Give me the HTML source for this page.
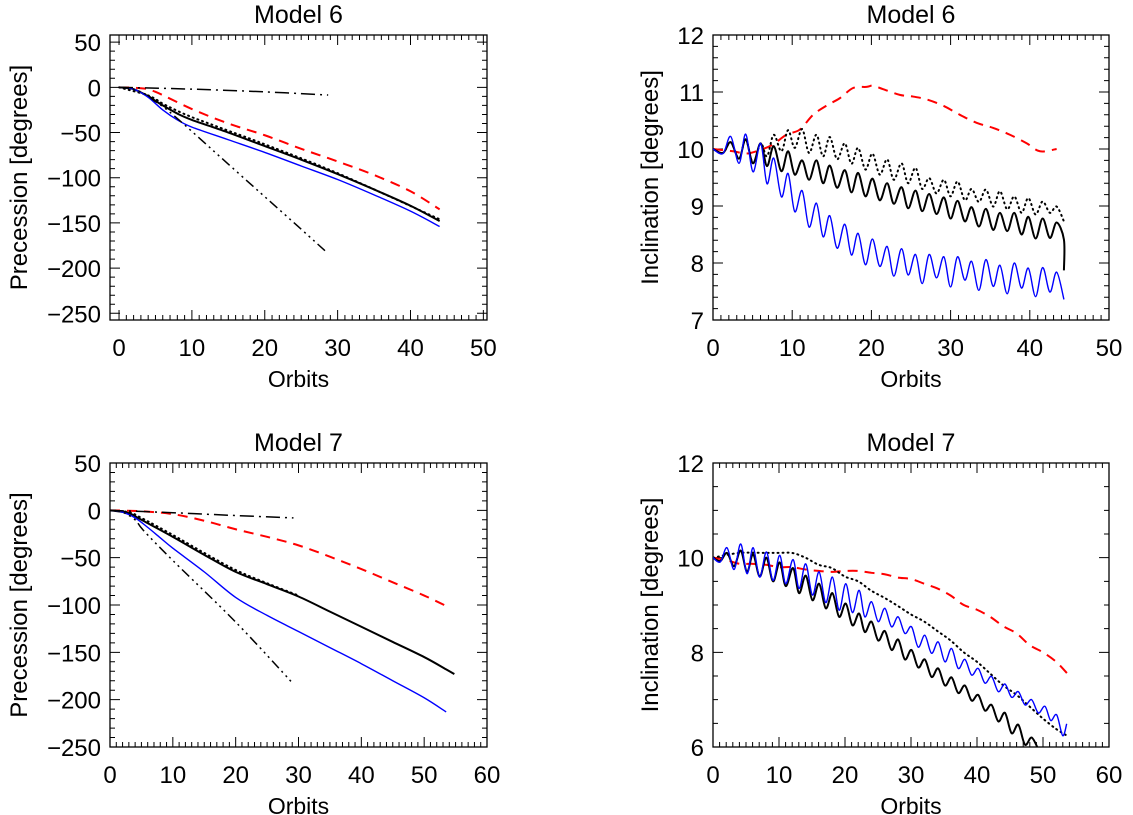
<!DOCTYPE html>
<html><head><meta charset="utf-8"><style>
html,body{margin:0;padding:0;background:#fff;}
svg{display:block;font-family:"Liberation Sans","DejaVu Sans",sans-serif;}
</style></head><body>
<svg id="fig" width="1133" height="815" viewBox="0 0 1133 815" xmlns="http://www.w3.org/2000/svg"></svg>
<script>
// ---------- Model 6 precession ----------
const m6PrecRedX = [0,3,5,10,15,20,25,30,35,40,44];
const m6PrecRedY = [0,-1,-5,-24,-40,-53,-68,-82,-97,-115,-135];
const m6PrecBlackX = [0,2,4,6,8,10,15,20,25,30,35,40,44];
const m6PrecBlackY = [0,-2,-10,-20,-29,-36,-50,-65,-80,-96,-113,-131,-148];
const m6PrecDotX = [0,4,6,8,10,12,15,20,30,44];
const m6PrecDotY = [0,-9,-18,-26,-33,-39,-48,-63,-95,-146];
const m6PrecBlueX = [0,2,4,6,8,10,15,20,25,30,35,40,44];
const m6PrecBlueY = [0,-2,-11,-25,-36,-44,-58,-72,-87,-102,-119,-137,-154];
const m6PrecDashDotX = [0,10,20,28.7];
const m6PrecDashDotY = [0,-2,-5,-8.5];
const m6PrecDash3DotX = [0,2,4,4.7,7.5,15,20,25,28.3];
const m6PrecDash3DotY = [0,-2,-9,-14,-31,-85,-121,-157,-181];
// ---------- Model 6 inclination ----------
const m6IncX = [0,1.26,2.23,3.29,4.13,5.05,6.02,6.82,7.67,8.64,9.48,10.32,11.25,12.13,13.06,13.9,14.74,15.67,16.64,17.48,18.32,19.25,20.13,21.06,21.99,22.83,23.8,24.64,25.57,26.41,27.3,28.22,29.15,29.99,30.88,31.8,32.65,33.57,34.46,35.38,36.23,37.15,38.04,38.96,39.81,40.73,41.62,42.54,43.39,44.31];
const m6IncBlue = [10,9.92,10.22,9.75,10.26,9.6,10.1,9.39,9.84,9.16,9.57,8.9,9.27,8.63,9.05,8.46,8.83,8.26,8.68,8.14,8.52,7.97,8.42,7.94,8.29,7.77,8.25,7.79,8.15,7.64,8.15,7.74,8.11,7.58,8.11,7.70,8.03,7.52,8.06,7.59,7.96,7.46,8.0,7.56,7.91,7.41,7.92,7.49,7.84,7.36];
const m6IncBlack = [10,9.93,10.12,9.83,10.17,9.75,10.1,9.7,10.05,9.61,9.96,9.55,9.8,9.46,9.8,9.4,9.71,9.32,9.63,9.24,9.58,9.17,9.48,9.1,9.4,9.04,9.33,8.96,9.27,8.91,9.21,8.86,9.15,8.78,9.09,8.73,8.98,8.64,8.95,8.58,8.88,8.56,8.88,8.5,8.81,8.43,8.78,8.44,8.71,8.41];
const m6IncBlackEnd = 7.87;
const m6IncDot = [10,9.93,10.12,9.83,10.17,9.75,10.1,9.87,10.25,9.96,10.33,10.02,10.35,9.93,10.25,9.87,10.21,9.82,10.1,9.74,10.02,9.64,9.92,9.55,9.82,9.46,9.75,9.4,9.67,9.3,9.49,9.22,9.46,9.17,9.43,9.1,9.3,9.07,9.29,8.99,9.26,8.94,9.17,8.88,9.14,8.85,9.08,8.88,8.99,8.73];
const m6IncRedX = [0,2.53,4.21,5.9,7.58,9.27,10.95,12.64,14.32,16.0,17.69,19.38,20.22,21.48,23.59,25.27,26.96,29.06,31.17,33.28,35.38,37.49,39.6,41.28,43.39];
const m6IncRedY = [10,9.96,9.92,9.98,10.08,10.25,10.34,10.6,10.76,10.89,11.07,11.09,11.11,11.05,10.95,10.92,10.87,10.76,10.6,10.46,10.37,10.25,10.1,9.96,10.0];
// ---------- Model 7 precession ----------
const m7PrecRedX = [0,5,10,15,20,25,30,35,40,45,50,53.5];
const m7PrecRedY = [0,-1,-4,-11,-20,-28,-37,-49,-62,-76,-90,-101];
const m7PrecBlackX = [0,3,5,10,15,20,25,30,35,40,45,50,53.5,54.8];
const m7PrecBlackY = [0,-3,-10,-28,-47,-65,-78,-91,-107,-123,-139,-155,-168,-173];
const m7PrecDotX = [0,3,5,10,15,20,25,30];
const m7PrecDotY = [0,-2,-8,-26,-45,-63,-77,-90];
const m7PrecBlueX = [0,2,4,6,8,10,15,20,25,30,35,40,45,50,53.5];
const m7PrecBlueY = [0,-2,-8,-18,-29,-40,-65,-92,-111,-128,-145,-162,-180,-198,-213];
const m7PrecDashDotX = [0,10,20,29.2];
const m7PrecDashDotY = [0,-2.5,-5.5,-8];
const m7PrecDash3DotX = [0,2,4,5.3,10,20,29.2];
const m7PrecDash3DotY = [0,-2,-10,-21,-53,-118,-183.5];
// ---------- Model 7 inclination ----------
const m7IncX = [0,1.11,2.12,3.19,4.2,5.16,6.07,7.08,8.09,9.1,10.11,11.02,12.13,13.04,14.05,15.07,16.08,17.09,18.1,19.11,20.12,21.13,22.14,23.0,24.01,25.03,26.04,27.05,28.06,29.07,30.08,31.09,32.1,33.11,34.13,35.14,36.15,37.16,38.17,39.18,40.19,41.2,42.21,43.23,44.24,45.25,46.26,47.27,48.28,49.29,50.3,51.16,52.07,52.98,53.59];
const m7IncBlue = [10,9.91,10.21,9.75,10.29,9.66,10.21,9.59,10.12,9.52,10.05,9.45,9.96,9.35,9.87,9.21,9.7,9.05,9.59,8.89,9.45,8.84,9.31,8.75,9.07,8.65,8.93,8.54,8.75,8.4,8.54,8.11,8.36,7.98,8.22,7.8,8.08,7.66,7.85,7.52,7.66,7.35,7.49,7.17,7.33,7.05,7.17,6.89,7.0,6.72,6.86,6.56,6.68,6.24,6.49];
const m7IncBlack = [10,9.93,10.1,9.82,10.15,9.7,10.07,9.6,10.0,9.5,9.9,9.4,9.78,9.25,9.62,9.1,9.45,8.93,9.25,8.75,9.03,8.57,8.82,8.43,8.65,8.25,8.45,8.05,8.27,7.85,8.05,7.68,7.85,7.48,7.66,7.3,7.47,7.14,7.3,6.98,7.1,6.77,6.89,6.54,6.72,6.29,6.47,6.05,6.2,5.95];
const m7IncDotX = [0,4,8,10,12,14,16,18,20,22,24,26,28,30,32,34,36,38,40,42,44,46,48,50,52,53.5];
const m7IncDotY = [10,10.1,10.1,10.1,10.1,10.0,9.85,9.78,9.6,9.5,9.3,9.15,8.98,8.8,8.65,8.45,8.25,8.0,7.8,7.55,7.3,7.1,6.85,6.6,6.38,6.25];
const m7IncRedX = [0,2,4,6,8,10,12,14,16,18,20,22,24,26,28,30,32,34,36,38,40,42,44,46,48,50,52,53.7];
const m7IncRedY = [10,9.95,9.87,9.87,9.85,9.8,9.8,9.75,9.72,9.7,9.72,9.72,9.68,9.65,9.58,9.55,9.45,9.35,9.2,9.0,8.9,8.75,8.55,8.4,8.15,8.0,7.8,7.55];

const NS = "http://www.w3.org/2000/svg";
const svg = document.getElementById('fig');
function mk(tag, attrs, parent){const e=document.createElementNS(NS,tag);for(const k in attrs)e.setAttribute(k,attrs[k]);(parent||svg).appendChild(e);return e;}

const STY = {
  red:{stroke:'#ff0000',w:2,dash:'10 7'},
  black:{stroke:'#000',w:2,dash:''},
  blue:{stroke:'#0000ff',w:1.4,dash:''},
  dot:{stroke:'#000',w:2,dash:'1 4',cap:'round'},
  dashdot:{stroke:'#000',w:1.5,dash:'14 5 2 5'},
  dash3:{stroke:'#000',w:1.5,dash:'10 4 2 4 2 4 2 4'}
};

function panel(p){
  const g = mk('g',{});
  
  
  const sx = v => p.L + (v - p.x0)/(p.x1 - p.x0)*(p.R - p.L);
  const sy = v => p.B - (v - p.y0)/(p.y1 - p.y0)*(p.B - p.T);
  const clipId = p.name+'-clip';
  const cp = mk('clipPath',{id:clipId},g);
  mk('rect',{x:p.L,y:p.T,width:p.R-p.L,height:p.B-p.T},cp);
  const t = mk('text',{x:(p.L+p.R)/2,y:p.T-12,'text-anchor':'middle','font-size':25,fill:'#000'},g);
  t.textContent = p.title;
  
  
  const fr = mk('rect',{x:p.L,y:p.T,width:p.R-p.L,height:p.B-p.T,fill:'none',stroke:'#000','stroke-width':1.3},g);
  
  
  let d='';
  for(let v=p.xMinorStart; v<=p.x1+1e-9; v+=p.xMinor){
    if(v < p.x0-1e-9) continue;
    const major = Math.abs(v/p.xMajor - Math.round(v/p.xMajor))<1e-6;
    const len = major?10:5; const x=sx(v);
    d+=`M${x},${p.B}v${-len}M${x},${p.T}v${len}`;
  }
  for(let v=p.yMinorStart; v<=p.y1+1e-9; v+=p.yMinor){
    if(v < p.y0-1e-9) continue;
    const major = Math.abs(v/p.yMajor - Math.round(v/p.yMajor))<1e-6;
    const len = major?10:5; const y=sy(v);
    d+=`M${p.L},${y}h${len}M${p.R},${y}h${-len}`;
  }
  mk('path',{d:d,stroke:'#000','stroke-width':1,fill:'none'},g);
  p.xTicks.forEach(v=>{
    const tx = mk('text',{x:sx(v),y:p.B+36,'text-anchor':'middle','font-size':24,fill:'#000'},g);
    tx.textContent = String(v);
    
    
  });
  p.yTicks.forEach(v=>{
    const ty = mk('text',{x:p.L-9,y:sy(v)+9,'text-anchor':'end','font-size':24,fill:'#000'},g);
    ty.textContent = (v<0?'\u2212':'')+Math.abs(v);
    
    
  });
  const xt = mk('text',{x:(p.L+p.R)/2,y:p.B+67,'text-anchor':'middle','font-size':23,fill:'#000'},g);
  xt.textContent = 'Orbits';
  
  
  const yt = mk('text',{x:0,y:0,'text-anchor':'middle','font-size':24,fill:'#000',transform:`translate(${p.yTitleX},${(p.T+p.B)/2}) rotate(-90)`},g);
  yt.textContent = p.yTitle;
  
  
  const sg = mk('g',{'clip-path':`url(#${clipId})`},g);
  p.series.forEach(s=>{
    const pts = s.x.slice(0, s.y.length).map((xv,i)=>[sx(xv), sy(s.y[i])]);
    if(s.extra!==undefined){ const lp = pts[pts.length-1]; pts.push([lp[0], sy(s.extra)]); }
    let path = `M${pts[0][0]},${pts[0][1]}`;
    for(let i=0;i<pts.length-1;i++){
      const p0=pts[Math.max(0,i-1)],p1=pts[i],p2=pts[i+1],p3=pts[Math.min(pts.length-1,i+2)];
      const c1=[p1[0]+(p2[0]-p0[0])/6,p1[1]+(p2[1]-p0[1])/6];
      const c2=[p2[0]-(p3[0]-p1[0])/6,p2[1]-(p3[1]-p1[1])/6];
      path+=`C${c1[0]},${c1[1]} ${c2[0]},${c2[1]} ${p2[0]},${p2[1]}`;
    }
    const st = STY[s.style];
    const e = mk('path',{d:path,fill:'none',stroke:st.stroke,'stroke-width':st.w,'stroke-dasharray':st.dash,'stroke-linecap':st.cap||'butt','stroke-linejoin':'round'},sg);
    
    
  });
}

panel({name:'model6-precession-panel',title:'Model 6',L:110,R:487,T:35,B:320,x0:-1.24,x1:50.5,y0:-257.4,y1:57.9,
  xMajor:10,xMinor:1,xMinorStart:0,yMajor:50,yMinor:10,yMinorStart:-250,
  xTicks:[0,10,20,30,40,50],yTicks:[50,0,-50,-100,-150,-200,-250],yTitle:'Precession  [degrees]',yTitleX:27,
  series:[
    {name:'red-dashed-line',style:'red',x:m6PrecRedX,y:m6PrecRedY},
    {name:'dotted-line',style:'dot',x:m6PrecDotX,y:m6PrecDotY},
    {name:'black-solid-line',style:'black',x:m6PrecBlackX,y:m6PrecBlackY},
    {name:'blue-line',style:'blue',x:m6PrecBlueX,y:m6PrecBlueY},
    {name:'dash-dot-line',style:'dashdot',x:m6PrecDashDotX,y:m6PrecDashDotY},
    {name:'dash-dot-dot-line',style:'dash3',x:m6PrecDash3DotX,y:m6PrecDash3DotY}
  ]});
panel({name:'model6-inclination-panel',title:'Model 6',L:713,R:1109,T:35,B:320,x0:0,x1:50,y0:7,y1:12,
  xMajor:10,xMinor:1,xMinorStart:0,yMajor:1,yMinor:0.2,yMinorStart:7,
  xTicks:[0,10,20,30,40,50],yTicks:[12,11,10,9,8,7],yTitle:'Inclination  [degrees]',yTitleX:658,
  series:[
    {name:'red-dashed-line',style:'red',x:m6IncRedX,y:m6IncRedY},
    {name:'dotted-line',style:'dot',x:m6IncX,y:m6IncDot},
    {name:'black-solid-line',style:'black',x:m6IncX,y:m6IncBlack,extra:m6IncBlackEnd},
    {name:'blue-line',style:'blue',x:m6IncX,y:m6IncBlue}
  ]});
panel({name:'model7-precession-panel',title:'Model 7',L:110,R:487,T:463,B:747,x0:0,x1:60,y0:-250,y1:50,
  xMajor:10,xMinor:1,xMinorStart:0,yMajor:50,yMinor:10,yMinorStart:-250,
  xTicks:[0,10,20,30,40,50,60],yTicks:[50,0,-50,-100,-150,-200,-250],yTitle:'Precession  [degrees]',yTitleX:27,
  series:[
    {name:'red-dashed-line',style:'red',x:m7PrecRedX,y:m7PrecRedY},
    {name:'dotted-line',style:'dot',x:m7PrecDotX,y:m7PrecDotY},
    {name:'black-solid-line',style:'black',x:m7PrecBlackX,y:m7PrecBlackY},
    {name:'blue-line',style:'blue',x:m7PrecBlueX,y:m7PrecBlueY},
    {name:'dash-dot-line',style:'dashdot',x:m7PrecDashDotX,y:m7PrecDashDotY},
    {name:'dash-dot-dot-line',style:'dash3',x:m7PrecDash3DotX,y:m7PrecDash3DotY}
  ]});
panel({name:'model7-inclination-panel',title:'Model 7',L:713,R:1109,T:463,B:747,x0:0,x1:60,y0:6,y1:12,
  xMajor:10,xMinor:1,xMinorStart:0,yMajor:2,yMinor:0.5,yMinorStart:6,
  xTicks:[0,10,20,30,40,50,60],yTicks:[12,10,8,6],yTitle:'Inclination  [degrees]',yTitleX:658,
  series:[
    {name:'red-dashed-line',style:'red',x:m7IncRedX,y:m7IncRedY},
    {name:'dotted-line',style:'dot',x:m7IncDotX,y:m7IncDotY},
    {name:'black-solid-line',style:'black',x:m7IncX,y:m7IncBlack},
    {name:'blue-line',style:'blue',x:m7IncX,y:m7IncBlue}
  ]});
</script>
</body></html>
